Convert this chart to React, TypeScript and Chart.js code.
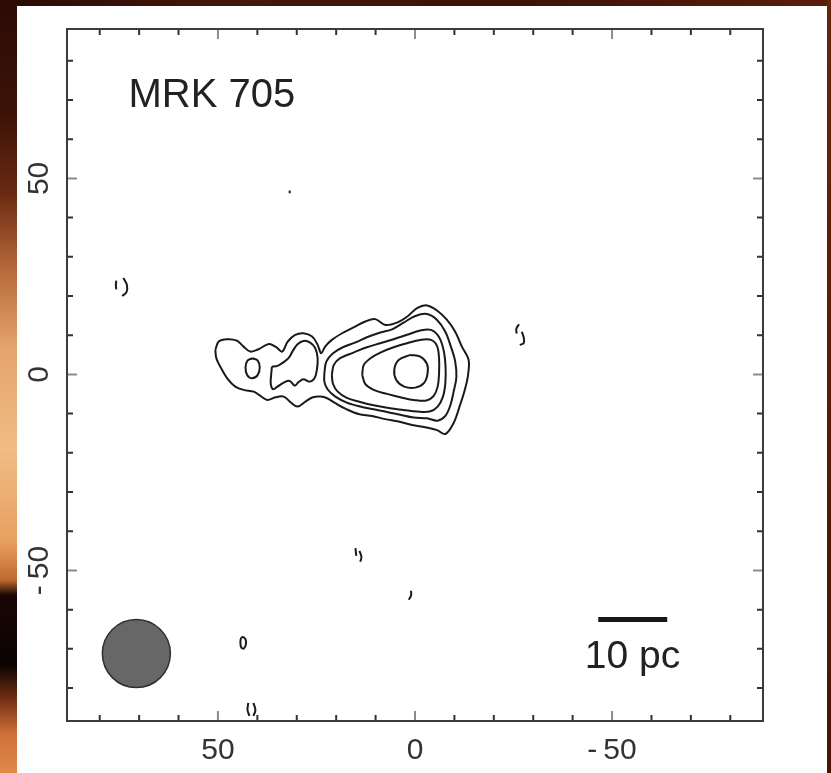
import { useEffect, useRef } from "react";
import { Chart, registerables } from "chart.js";

Chart.register(...registerables);

// Map extent in offset units (east to the left)
const X_MIN = -88.3;
const X_MAX = 88.3;
const Y_MIN = -88.4;
const Y_MAX = 88.1;

const labelTicks = [50, 0, -50];
const minorTicks = [80, 70, 60, 50, 40, 30, 20, 10, 0, -10, -20, -30, -40, -50, -60, -70, -80];

// Lowest contour: one envelope around the core and the eastern lobe
const contourLevel1: [number, number][] = [
  [50.66, 6.25], [49.8, 8.37], [47.7, 8.98], [45.2, 8.62], [43.5, 7.09], [41.8, 5.82],
  [39.7, 6.42], [37.1, 7.78], [35.2, 6.93], [33.7, 5.82], [32.3, 8.37], [30.4, 10.08],
  [28.3, 10.5], [26.1, 9.65], [24.7, 7.53], [23.8, 5.4], [22.8, 7.09], [21.1, 8.8],
  [18.5, 10.5], [15.6, 12.0], [12.6, 13.5], [10.1, 14.1], [7.53, 12.6], [4.57, 13.2],
  [2.03, 14.7], [-0.51, 16.9], [-3.04, 17.6], [-5.58, 16.3], [-8.12, 13.9], [-10.2, 10.9],
  [-11.9, 7.09], [-13.6, 3.7], [-13.4, -0.55], [-12.5, -4.4], [-11.3, -8.2], [-9.8, -12.4],
  [-7.7, -15.2], [-5.6, -14.2], [-2.6, -13.5], [0.76, -12.9], [4.16, -12.0], [7.53, -11.4],
  [10.9, -10.6], [14.3, -10.1], [17.3, -8.9], [20.2, -7.35], [22.3, -6.08], [24.0, -5.66],
  [25.9, -5.83], [27.8, -6.93], [29.8, -8.2], [31.5, -7.18], [33.3, -5.66], [35.4, -5.83],
  [37.5, -6.5], [39.2, -5.5], [40.9, -4.4], [43.5, -3.95], [45.6, -3.1], [47.5, -1.2],
  [49.2, 1.6], [50.4, 4.1],
];

// Second level: knot in the eastern lobe
const contourLevel2Knot: [number, number][] = [
  [41.2, 4.13], [39.9, 3.52], [39.4, 1.84], [39.9, -0.13], [41.3, -0.97], [42.6, -0.13],
  [43.0, 1.84], [42.5, 3.52],
];

// Second level: inner part of the eastern lobe
const contourLevel2Lobe: [number, number][] = [
  [36.3, 1.99], [34.9, 2.17], [33.5, 3.01], [32.1, 4.13], [31.0, 6.0], [29.8, 7.7],
  [28.3, 8.55], [26.6, 8.12], [25.3, 6.68], [24.7, 4.13], [24.9, 1.15], [25.5, -0.97],
  [26.8, -1.84], [28.3, -1.22], [29.5, -1.91], [30.5, -2.86], [31.8, -1.66], [33.3, -2.09],
  [34.9, -3.11], [36.0, -3.78], [36.6, -2.5], [36.5, -0.13],
];

// Second level around the core
const contourLevel2Core: [number, number][] = [
  [23.0, 0.3], [22.5, 3.27], [20.8, 5.4], [18.3, 6.93], [15.2, 8.12], [12.2, 9.48],
  [8.8, 10.7], [5.83, 11.5], [2.9, 13.2], [-0.08, 14.9], [-3.04, 15.4], [-5.6, 13.9],
  [-7.7, 10.9], [-9.1, 7.09], [-10.2, 3.27], [-10.5, -0.72], [-9.8, -4.4], [-9.0, -7.8],
  [-7.7, -10.6], [-5.75, -11.8], [-3.04, -11.2], [0.34, -11.0], [3.73, -10.3], [7.1, -9.57],
  [10.5, -8.9], [13.9, -8.2], [17.3, -7.18], [20.2, -5.66], [22.2, -3.78], [23.0, -1.84],
];

const contourLevel3: [number, number][] = [
  [21.1, -0.13], [20.6, 2.42], [19.0, 4.13], [15.6, 5.57], [12.2, 6.93], [8.8, 7.95],
  [5.43, 8.98], [2.03, 10.1], [-1.35, 11.2], [-4.05, 11.35], [-6.0, 9.65], [-7.25, 6.25],
  [-7.75, 1.99], [-7.7, -2.24], [-7.1, -5.66], [-5.75, -8.2], [-3.73, -9.48], [-0.51, -9.48],
  [2.9, -9.06], [6.3, -8.64], [10.5, -7.87], [13.9, -7.02], [17.3, -6.0], [19.6, -4.4],
  [20.8, -2.45],
];

const contourLevel4: [number, number][] = [
  [13.4, -0.13], [13.0, 2.42], [11.3, 4.13], [8.8, 5.57], [5.43, 6.93], [2.03, 7.95],
  [-1.35, 8.8], [-4.05, 8.8], [-5.58, 7.27], [-6.1, 4.13], [-6.1, 0.3], [-5.75, -3.11],
  [-4.74, -5.5], [-2.9, -6.68], [0.34, -6.5], [3.73, -5.83], [7.1, -4.97], [10.5, -3.95],
  [12.6, -2.5],
];

const contourLevel5: [number, number][] = [
  [1.19, 4.97], [-1.35, 4.54], [-3.04, 2.68], [-3.2, 0.3], [-2.36, -2.09], [-0.08, -3.37],
  [2.72, -3.11], [4.75, -1.4], [5.26, 1.15], [4.16, 3.7],
];

const closedIslands: [number, number][][] = [
  [[43.6, -66.9], [43.0, -67.6], [42.9, -68.8], [43.4, -69.9], [44.1, -69.6], [44.3, -68.2], [44.1, -67.2]],
];

// Isolated low-level noise fragments
const openFragments: [number, number][][] = [
  [[31.8, 46.9], [31.8, 46.2]],
  [[75.8, 23.9], [75.9, 22.8], [75.8, 21.7]],
  [[74.0, 24.6], [73.1, 22.8], [73.2, 21.0], [74.3, 20.0]],
  [[-26.4, 12.8], [-25.7, 11.6], [-25.8, 10.4]],
  [[-27.1, 10.9], [-27.6, 9.3], [-27.6, 8.0], [-26.6, 7.5]],
  [[15.1, -44.3], [15.0, -45.4], [14.9, -46.3]],
  [[14.1, -45.0], [13.6, -46.6], [13.9, -47.8]],
  [[1.0, -55.2], [1.0, -56.4], [1.6, -57.5]],
  [[42.3, -83.8], [42.5, -85.6], [42.0, -87.1]],
  [[41.0, -83.8], [40.5, -85.6], [41.0, -87.1]],
];

// Restoring beam centre
const beamCentre: [number, number] = [70.7, -71.2];

// 10 pc scale bar end points
const scaleBar: [number, number][] = [[-46.5, -62.5], [-64.0, -62.5]];

const TITLE = "MRK 705";
const SCALE_LABEL = "10 pc";

const FONT = "'Liberation Sans', Arial, Helvetica, sans-serif";
const INK = "#1a1a1a";

const toPoints = (pts: [number, number][]) => pts.map(([x, y]) => ({ x, y }));
const closeLoop = (pts: [number, number][]) => toPoints([...pts, pts[0]]);

const contourSet = (pts: [number, number][], closed: boolean, tension = 0.4) => ({
  type: "scatter" as const,
  data: closed ? closeLoop(pts) : toPoints(pts),
  showLine: true,
  borderColor: INK,
  borderWidth: 2,
  pointRadius: 0,
  tension,
  fill: false,
});

const frameAndLabels = {
  id: "frameAndLabels",
  afterDraw(chart: any) {
    const { ctx, chartArea } = chart;
    const xs = chart.scales.x;
    const ys = chart.scales.y;
    const { left, right, top, bottom } = chartArea;
    ctx.save();

    // inward tick marks on all four sides
    ctx.lineCap = "butt";
    for (const v of minorTicks) {
      const major = v % 50 === 0;
      const len = major ? 10 : 6;
      ctx.strokeStyle = major ? "#8c8c8c" : "#333";
      ctx.lineWidth = 2;
      const px = xs.getPixelForValue(v);
      const py = ys.getPixelForValue(v);
      ctx.beginPath();
      ctx.moveTo(px, bottom);
      ctx.lineTo(px, bottom - len);
      ctx.moveTo(px, top);
      ctx.lineTo(px, top + len);
      ctx.moveTo(left, py);
      ctx.lineTo(left + len, py);
      ctx.moveTo(right, py);
      ctx.lineTo(right - len, py);
      ctx.stroke();
    }

    // frame
    ctx.strokeStyle = "#3c3c3c";
    ctx.lineWidth = 2;
    ctx.strokeRect(left, top, right - left, bottom - top);

    // source name
    ctx.fillStyle = "#222";
    ctx.font = `40px ${FONT}`;
    ctx.textAlign = "left";
    ctx.textBaseline = "alphabetic";
    ctx.fillText(TITLE, xs.getPixelForValue(72.7), ys.getPixelForValue(68.2));

    // scale bar caption
    ctx.font = `39px ${FONT}`;
    ctx.textAlign = "center";
    ctx.fillText(SCALE_LABEL, xs.getPixelForValue(-55.2), ys.getPixelForValue(-74.9));
    ctx.restore();
  },
};

const fmt = (v: number) => (v < 0 ? "-\u2009" + Math.abs(v) : String(v));

const clearScalePadding = (s: any) => {
  s.paddingTop = 0;
  s.paddingBottom = 0;
  s.paddingLeft = 0;
  s.paddingRight = 0;
};

export default function App() {
  const ref = useRef<HTMLCanvasElement>(null);

  useEffect(() => {
    if (!ref.current) return;
    const datasets: any[] = [
      contourSet(contourLevel1, true, 0.35),
      contourSet(contourLevel2Knot, true),
      contourSet(contourLevel2Lobe, true, 0.35),
      contourSet(contourLevel2Core, true, 0.35),
      contourSet(contourLevel3, true, 0.35),
      contourSet(contourLevel4, true, 0.35),
      contourSet(contourLevel5, true),
      ...closedIslands.map((p) => contourSet(p, true)),
      ...openFragments.map((p) => contourSet(p, false)),
      {
        type: "scatter",
        data: toPoints(scaleBar),
        showLine: true,
        borderColor: "#161616",
        borderWidth: 5,
        borderCapStyle: "butt",
        pointRadius: 0,
      },
      {
        type: "scatter",
        data: toPoints([beamCentre]),
        pointRadius: 34,
        pointBackgroundColor: "#676767",
        pointBorderColor: "#2e2e2e",
        pointBorderWidth: 1.5,
      },
    ];

    const chart = new Chart(ref.current, {
      type: "scatter",
      data: { datasets },
      options: {
        responsive: false,
        animation: false,
        events: [],
        layout: { autoPadding: false, padding: { top: 23, right: 64, left: 0, bottom: 0 } },
        plugins: {
          legend: { display: false },
          tooltip: { enabled: false },
          title: { display: false },
        },
        scales: {
          x: {
            type: "linear",
            reverse: true,
            min: X_MIN,
            max: X_MAX,
            grid: { display: false, drawTicks: false },
            border: { display: false },
            afterBuildTicks: (s: any) => {
              s.ticks = labelTicks.map((value) => ({ value }));
            },
            afterFit: (s: any) => {
              s.height = 52;
              clearScalePadding(s);
            },
            ticks: {
              autoSkip: false,
              maxRotation: 0,
              minRotation: 0,
              padding: 12,
              color: "#333",
              font: { family: FONT, size: 30 },
              callback: (v: any) => fmt(Number(v)),
            },
          },
          y: {
            type: "linear",
            min: Y_MIN,
            max: Y_MAX,
            grid: { display: false, drawTicks: false },
            border: { display: false },
            afterBuildTicks: (s: any) => {
              s.ticks = labelTicks.map((value) => ({ value }));
            },
            afterFit: (s: any) => {
              s.width = 50;
              clearScalePadding(s);
            },
            ticks: {
              autoSkip: false,
              minRotation: 90,
              maxRotation: 90,
              crossAlign: "center",
              padding: 3,
              color: "#333",
              font: { family: FONT, size: 30 },
              callback: (v: any) => fmt(Number(v)),
            },
          },
        },
      } as any,
      plugins: [frameAndLabels],
    });
    return () => chart.destroy();
  }, []);

  return (
    <div
      style={{
        position: "fixed",
        left: 0,
        top: 0,
        width: 831,
        height: 773,
        overflow: "hidden",
        background: "linear-gradient(90deg, #2a0a05 0%, #46170a 30%, #3a1208 60%, #5a1e0a 100%)",
      }}
    >
      <div
        style={{
          position: "absolute",
          left: 0,
          top: 0,
          width: 17,
          height: 773,
          background:
            "linear-gradient(180deg, #2c0b05 0%, #3d1308 15%, #6a2a12 25%, #b86a3a 35%, #e4a46c 45%, #f0bc84 58%, #e8a060 70%, #c06a30 75%, #1a0604 77%, #0b0302 86%, #6a2a10 90%, #d0703a 95%, #e08a4a 100%)",
        }}
      />
      <div
        style={{
          position: "absolute",
          right: 0,
          top: 0,
          width: 4,
          height: 773,
          background: "linear-gradient(180deg, #6a240c 0%, #5a1a08 50%, #4a1206 100%)",
        }}
      />
      <div
        style={{
          position: "absolute",
          left: 17,
          top: 6,
          width: 810,
          height: 767,
          background: "#ffffff",
        }}
      >
        <canvas ref={ref} width={810} height={767} style={{ display: "block", width: 810, height: 767 }} />
      </div>
    </div>
  );
}
